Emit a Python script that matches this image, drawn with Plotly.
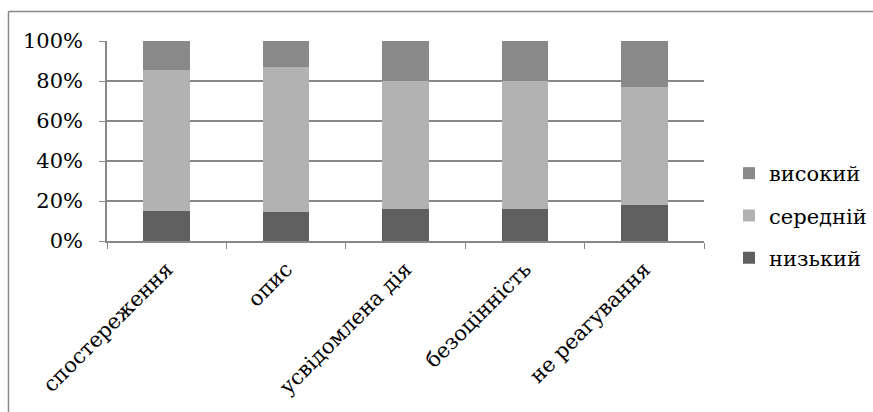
import plotly.graph_objects as go

# Categories of response and level shares (%)
categories = ["спостереження", "опис", "усвідомлена дія", "безоцінність", "не реагування"]
low = [15, 14.5, 16, 16, 18]
medium = [70.5, 72.3, 64, 64, 59]
high = [14.5, 13.2, 20, 20, 23]

series = [
    ("низький", low, "#5f5f5f", 3),
    ("середній", medium, "#b2b2b2", 2),
    ("високий", high, "#898989", 1),
]

FONT = "DejaVu Serif"

fig = go.Figure()
for name, vals, color, rank in series:
    fig.add_trace(go.Bar(
        x=categories, y=vals, name=name, legendgroup=name, legendrank=rank,
        marker=dict(color=color, line=dict(width=0)),
    ))

W, H = 873, 412
L, R, T, B = 107, 169, 41, 171
pw, ph = W - L - R, H - T - B

def px_x(x):
    return (x - L) / pw

def px_y(y):
    return (H - B - y) / ph

fig.update_layout(
    width=W, height=H,
    margin=dict(l=L, r=R, t=T, b=B, pad=0, autoexpand=False),
    barmode="stack", bargap=0.61,
    plot_bgcolor="white", paper_bgcolor="white",
    font=dict(family=FONT, size=21, color="black"),
    showlegend=True,
    legend=dict(
        x=px_x(729), y=px_y(153), xanchor="left", yanchor="top",
        traceorder="grouped", tracegroupgap=12,
        font=dict(family=FONT, size=21),
        itemwidth=30, bgcolor="rgba(0,0,0,0)",
    ),
    xaxis=dict(
        tickangle=-45, tickson="boundaries", ticks="outside", ticklen=6,
        tickcolor="#888888", showline=True, linecolor="#888888", linewidth=1.5,
        showgrid=False, automargin=False, ticklabelstandoff=6,
        tickfont=dict(family=FONT, size=21),
    ),
    yaxis=dict(
        range=[0, 100], tickvals=[0, 20, 40, 60, 80, 100],
        ticktext=["0%", "20%", "40%", "60%", "80%", "100%"],
        ticks="outside", ticklen=6, tickcolor="#888888",
        showline=True, linecolor="#888888", linewidth=1.5,
        showgrid=True, gridcolor="#888888", gridwidth=1.5,
        zeroline=False, ticklabelstandoff=12, automargin=False,
        tickfont=dict(family=FONT, size=21),
    ),
    shapes=[
        dict(type="line", xref="paper", yref="paper",
             x0=px_x(8.5), x1=px_x(873), y0=px_y(11.5), y1=px_y(11.5),
             line=dict(color="#888888", width=1.5)),
        dict(type="line", xref="paper", yref="paper",
             x0=px_x(8.5), x1=px_x(8.5), y0=px_y(11.5), y1=px_y(412),
             line=dict(color="#888888", width=1.5)),
    ],
)

fig.write_html("out.html")
